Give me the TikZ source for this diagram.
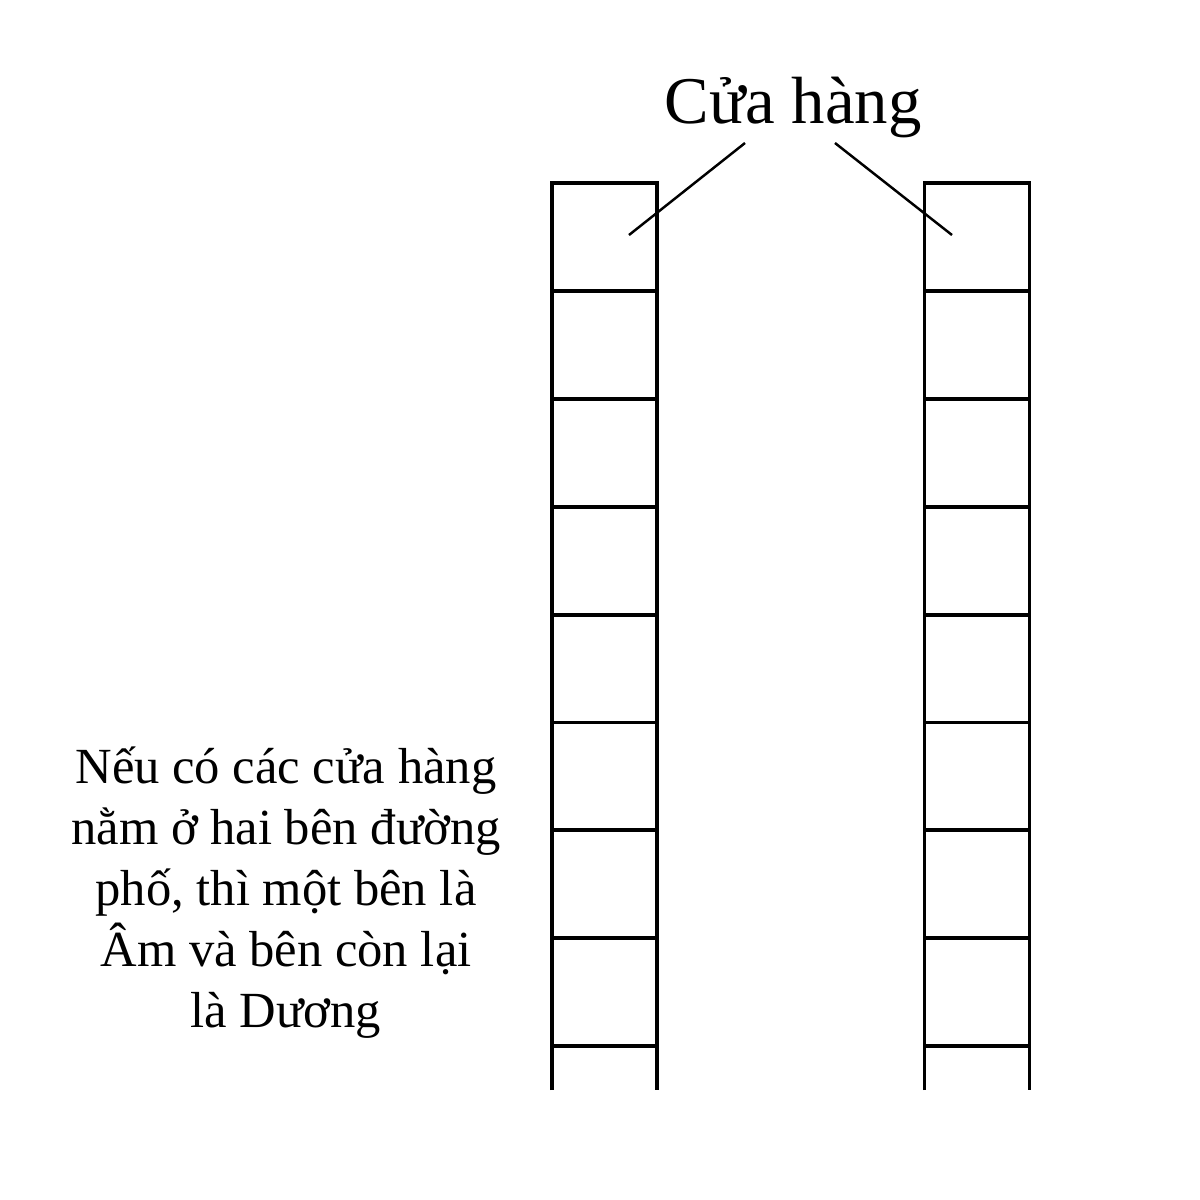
\documentclass[tikz,border=0pt]{standalone}
\usepackage{fontspec}
\setmainfont{Liberation Serif}
\usetikzlibrary{positioning}

\begin{document}
\begin{tikzpicture}
 \useasboundingbox (0,0) rectangle (12,-12);
 \tikzset{rail/.style={line width=1.1pt}, leader/.style={line width=0.7pt}}

 \node[font=\fontsize{19}{23}\selectfont, inner sep=0pt, anchor=base] (shop) at (7.93,-1.23) {Cửa hàng};
 \coordinate (sl) at (7.45,-1.43);%left end under the title
 \coordinate (sr) at (8.35,-1.43);%right end under the title

 \foreach \x in {5.52,9.245} {
  \draw[rail] (\x,-10.9) -- (\x,-1.83) -- ++(1.05,0) -- (\x+1.05,-10.9);
  \foreach \i in {1,...,8}
   \draw[rail] (\x,-1.83-1.079*\i) -- ++(1.05,0);
 }
 \coordinate (lcell) at (6.29,-2.35);
 \coordinate (rcell) at (9.52,-2.35);

 \draw[leader] (sl) to (lcell);
 \draw[leader] (sr) to (rcell);

 \node[font=\fontsize{14.4}{17.35}\selectfont, align=center, inner sep=0pt, anchor=base] (note) at (2.86,-10.27)
  {Nếu có các cửa hàng\\nằm ở hai bên đường\\phố, thì một bên là\\Âm và bên còn lại\\là Dương};
\end{tikzpicture}
\end{document}
